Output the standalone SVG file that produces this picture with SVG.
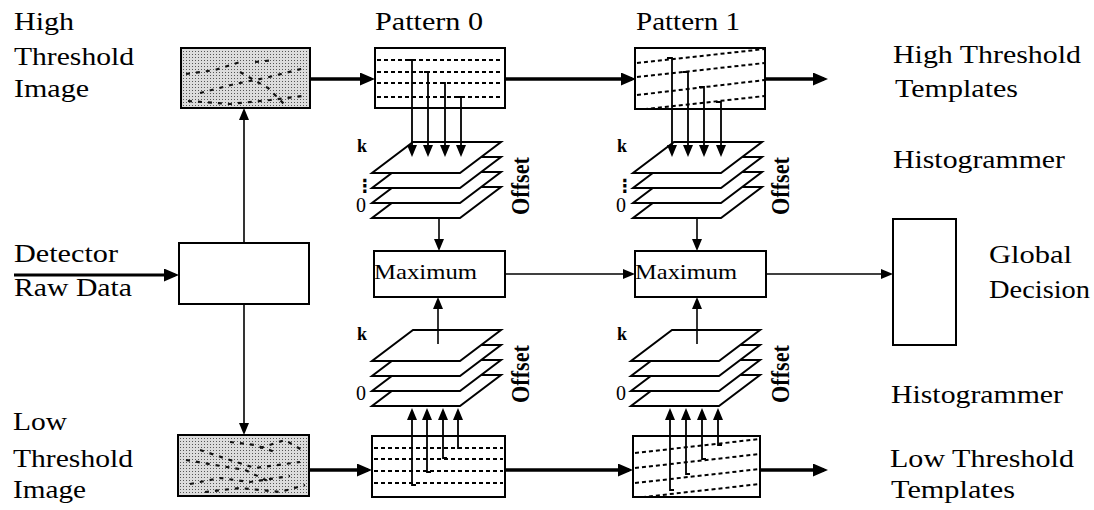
<svg xmlns="http://www.w3.org/2000/svg" width="1094" height="510" viewBox="0 0 1094 510">
<style>
.t{font-family:"Liberation Serif","Times New Roman",serif;font-size:25px;fill:#000}
.m{font-family:"Liberation Serif","Times New Roman",serif;font-size:22px;fill:#000}
.b{font-family:"Liberation Serif","Times New Roman",serif;font-size:18px;font-weight:bold;fill:#000}
.off{font-family:"Liberation Serif","Times New Roman",serif;font-size:25px;font-weight:bold;fill:#000}
.box{fill:#fff;stroke:#000;stroke-width:2}
.img{fill:url(#stip);stroke:#000;stroke-width:2}
.pl{fill:#fff;stroke:#000;stroke-width:2;stroke-linejoin:miter}
.dash{stroke:#000;stroke-width:2;stroke-dasharray:4 3;fill:none}
.mark{stroke:#111;stroke-width:2.2;stroke-dasharray:4 6;fill:none}
.thick{stroke:#000;stroke-width:3.5;fill:none}
.thin{stroke:#000;stroke-width:1.6;fill:none}
.v{stroke:#000;stroke-width:1.8;fill:none}
</style>
<defs>
<pattern id="stip" width="3" height="3" patternUnits="userSpaceOnUse">
<rect width="3" height="3" fill="#dcdcdc"/>
<rect width="1" height="1" fill="#555"/>
</pattern>
<polygon id="pg" points="41,0 129,0 88,31 0,31"/>
<marker id="ah" markerUnits="userSpaceOnUse" markerWidth="15" markerHeight="13" refX="11" refY="6.5" orient="auto"><path d="M0,0 L15,6.5 L0,13 z" fill="#000"/></marker>
<marker id="as" markerUnits="userSpaceOnUse" markerWidth="12" markerHeight="10" refX="9" refY="5" orient="auto"><path d="M0,0 L12,5 L0,10 z" fill="#000"/></marker>
<clipPath id="c1"><rect x="635" y="48" width="130" height="61"/></clipPath>
<clipPath id="c2"><rect x="633" y="436" width="127" height="61"/></clipPath>
</defs>

<g id="labels">
<text class="t" x="14" y="30" textLength="60" lengthAdjust="spacingAndGlyphs">High</text>
<text class="t" x="14" y="65" textLength="120" lengthAdjust="spacingAndGlyphs">Threshold</text>
<text class="t" x="14" y="97" textLength="75" lengthAdjust="spacingAndGlyphs">Image</text>
<text class="t" x="375" y="30" textLength="108" lengthAdjust="spacingAndGlyphs">Pattern 0</text>
<text class="t" x="636" y="30" textLength="104" lengthAdjust="spacingAndGlyphs">Pattern 1</text>
<text class="t" x="893" y="63" textLength="188" lengthAdjust="spacingAndGlyphs">High Threshold</text>
<text class="t" x="895" y="97" textLength="123" lengthAdjust="spacingAndGlyphs">Templates</text>
<text class="t" x="893" y="168" textLength="172" lengthAdjust="spacingAndGlyphs">Histogrammer</text>
<text class="t" x="14" y="262" textLength="104" lengthAdjust="spacingAndGlyphs">Detector</text>
<text class="t" x="14" y="296" textLength="118" lengthAdjust="spacingAndGlyphs">Raw Data</text>
<text class="t" x="989" y="263" textLength="83" lengthAdjust="spacingAndGlyphs">Global</text>
<text class="t" x="989" y="298" textLength="101" lengthAdjust="spacingAndGlyphs">Decision</text>
<text class="t" x="891" y="403" textLength="172" lengthAdjust="spacingAndGlyphs">Histogrammer</text>
<text class="t" x="13" y="430" textLength="54" lengthAdjust="spacingAndGlyphs">Low</text>
<text class="t" x="13" y="467" textLength="120" lengthAdjust="spacingAndGlyphs">Threshold</text>
<text class="t" x="13" y="498" textLength="73" lengthAdjust="spacingAndGlyphs">Image</text>
<text class="t" x="890" y="467" textLength="184" lengthAdjust="spacingAndGlyphs">Low Threshold</text>
<text class="t" x="891" y="498" textLength="124" lengthAdjust="spacingAndGlyphs">Templates</text>
</g>

<g id="high-image">
<rect class="img" x="181" y="48" width="129" height="60"/>
<path class="mark" d="M186,74 L215,70 L240,62"/>
<path class="mark" d="M255,62 L275,60"/>
<path class="mark" d="M200,93 L235,84 L265,78 L305,68"/>
<path class="mark" d="M188,101 L230,104 L270,100 L302,96"/>
<path class="mark" d="M240,72 L268,88 L286,106"/>
</g>

<g id="low-image">
<rect class="img" x="178" y="435" width="131" height="61"/>
<path class="mark" d="M230,442 L255,445 L275,452"/>
<path class="mark" d="M186,460 L215,465 L245,470 L270,482"/>
<path class="mark" d="M200,450 L230,460 L255,468 L300,462"/>
<path class="mark" d="M190,484 L220,478 L250,482 L290,476"/>
<path class="mark" d="M205,492 L240,488 L280,492 L305,485"/>
<path class="mark" d="M260,448 L285,440 L302,450"/>
</g>

<g id="pattern0-high">
<rect class="box" x="375" y="48" width="130" height="60"/>
<path class="dash" d="M377,60 H503 M377,72 H503 M377,83 H503 M377,97 H503"/>
</g>

<g id="pattern1-high">
<rect class="box" x="635" y="48" width="130" height="61"/>
<g clip-path="url(#c1)">
<path class="dash" d="M637,63 L765,49 M637,77 L765,63 M637,95 L765,80 M637,110 L765,96"/>
</g>
</g>

<g id="pattern0-low">
<rect class="box" x="372" y="436" width="133" height="61"/>
<path class="dash" d="M374,448 H503 M374,459 H503 M374,471 H503 M374,483 H503"/>
</g>

<g id="pattern1-low">
<rect class="box" x="633" y="436" width="127" height="61"/>
<g clip-path="url(#c2)">
<path class="dash" d="M635,453 L760,439 M635,468 L760,454 M635,483 L760,469 M635,498 L760,484"/>
</g>
</g>

<g id="hist0-high">
<use href="#pg" class="pl" x="372" y="187"/>
<use href="#pg" class="pl" x="372" y="172"/>
<use href="#pg" class="pl" x="372" y="157"/>
<use href="#pg" class="pl" x="372" y="142"/>
<text class="b" x="357" y="152">k</text>
<text class="b" x="356" y="192" style="font-family:'DejaVu Sans',sans-serif;font-size:18px">⋮</text>
<text class="b" x="356" y="212" style="font-size:20px;font-weight:normal">0</text>
<text class="off" transform="translate(529,186) rotate(-90)" text-anchor="middle" textLength="58" lengthAdjust="spacingAndGlyphs">Offset</text>
</g>

<g id="hist1-high">
<use href="#pg" class="pl" x="633" y="187"/>
<use href="#pg" class="pl" x="633" y="172"/>
<use href="#pg" class="pl" x="633" y="157"/>
<use href="#pg" class="pl" x="633" y="142"/>
<text class="b" x="617" y="152">k</text>
<text class="b" x="616" y="192" style="font-family:'DejaVu Sans',sans-serif;font-size:18px">⋮</text>
<text class="b" x="616" y="212" style="font-size:20px;font-weight:normal">0</text>
<text class="off" transform="translate(789,186) rotate(-90)" text-anchor="middle" textLength="58" lengthAdjust="spacingAndGlyphs">Offset</text>
</g>

<g id="hist0-low">
<use href="#pg" class="pl" x="372" y="375"/>
<use href="#pg" class="pl" x="372" y="360"/>
<use href="#pg" class="pl" x="372" y="345"/>
<use href="#pg" class="pl" x="372" y="330"/>
<text class="b" x="357" y="340">k</text>
<text class="b" x="356" y="400" style="font-size:20px;font-weight:normal">0</text>
<text class="off" transform="translate(529,374) rotate(-90)" text-anchor="middle" textLength="58" lengthAdjust="spacingAndGlyphs">Offset</text>
</g>

<g id="hist1-low">
<use href="#pg" class="pl" x="631" y="375"/>
<use href="#pg" class="pl" x="631" y="360"/>
<use href="#pg" class="pl" x="631" y="345"/>
<use href="#pg" class="pl" x="631" y="330"/>
<text class="b" x="617" y="340">k</text>
<text class="b" x="616" y="400" style="font-size:20px;font-weight:normal">0</text>
<text class="off" transform="translate(789,374) rotate(-90)" text-anchor="middle" textLength="58" lengthAdjust="spacingAndGlyphs">Offset</text>
</g>

<g id="max0">
<rect class="box" x="374" y="251" width="131" height="46"/>
<text class="m" x="374" y="279" textLength="103" lengthAdjust="spacingAndGlyphs">Maximum</text>
</g>

<g id="max1">
<rect class="box" x="635" y="251" width="131" height="46"/>
<text class="m" x="635" y="279" textLength="102" lengthAdjust="spacingAndGlyphs">Maximum</text>
</g>

<g id="detector">
<rect class="box" x="179" y="243" width="130" height="61"/>
</g>

<g id="global">
<rect class="box" x="893" y="219" width="63" height="126"/>
</g>

<g id="connectors">
<line class="thick" x1="310" y1="79" x2="371" y2="79" marker-end="url(#ah)"/>
<line class="thick" x1="505" y1="79" x2="632" y2="79" marker-end="url(#ah)"/>
<line class="thick" x1="765" y1="79" x2="824" y2="79" marker-end="url(#ah)"/>
<line class="thick" x1="309" y1="470" x2="368" y2="470" marker-end="url(#ah)"/>
<line class="thick" x1="505" y1="470" x2="629" y2="470" marker-end="url(#ah)"/>
<line class="thick" x1="760" y1="470" x2="824" y2="470" marker-end="url(#ah)"/>
<line class="thick" x1="14" y1="275" x2="175" y2="275" marker-end="url(#ah)" style="stroke-width:3"/>
<line class="thin" x1="244" y1="243" x2="244" y2="111" marker-end="url(#as)"/>
<line class="thin" x1="244" y1="304" x2="244" y2="432" marker-end="url(#as)"/>
<line class="thin" x1="505" y1="274" x2="632" y2="274" marker-end="url(#as)"/>
<line class="thin" x1="766" y1="274" x2="890" y2="274" marker-end="url(#as)"/>
<line class="thin" x1="439" y1="218" x2="439" y2="248" marker-end="url(#as)"/>
<line class="thin" x1="697" y1="218" x2="697" y2="248" marker-end="url(#as)"/>
<line class="thin" x1="438" y1="344" x2="438" y2="300" marker-end="url(#as)"/>
<line class="thin" x1="697" y1="344" x2="697" y2="300" marker-end="url(#as)"/>
<path class="v" d="M408,60 H412 V154" marker-end="url(#as)"/>
<path class="v" d="M424,72 H428 V154" marker-end="url(#as)"/>
<path class="v" d="M441,83 H445 V154" marker-end="url(#as)"/>
<path class="v" d="M457,97 H461 V154" marker-end="url(#as)"/>
<path class="v" d="M667,58 H672 V154" marker-end="url(#as)"/>
<path class="v" d="M683,72 H688 V154" marker-end="url(#as)"/>
<path class="v" d="M699,87 H704 V154" marker-end="url(#as)"/>
<path class="v" d="M716,102 H721 V154" marker-end="url(#as)"/>
<path class="v" d="M416,485 H412 V411" marker-end="url(#as)"/>
<path class="v" d="M431,472 H427 V411" marker-end="url(#as)"/>
<path class="v" d="M447,458 H443 V411" marker-end="url(#as)"/>
<path class="v" d="M462,448 H458 V411" marker-end="url(#as)"/>
<path class="v" d="M674,490 H670 V411" marker-end="url(#as)"/>
<path class="v" d="M690,474 H686 V411" marker-end="url(#as)"/>
<path class="v" d="M706,459 H702 V411" marker-end="url(#as)"/>
<path class="v" d="M722,445 H718 V411" marker-end="url(#as)"/>
</g>
</svg>
